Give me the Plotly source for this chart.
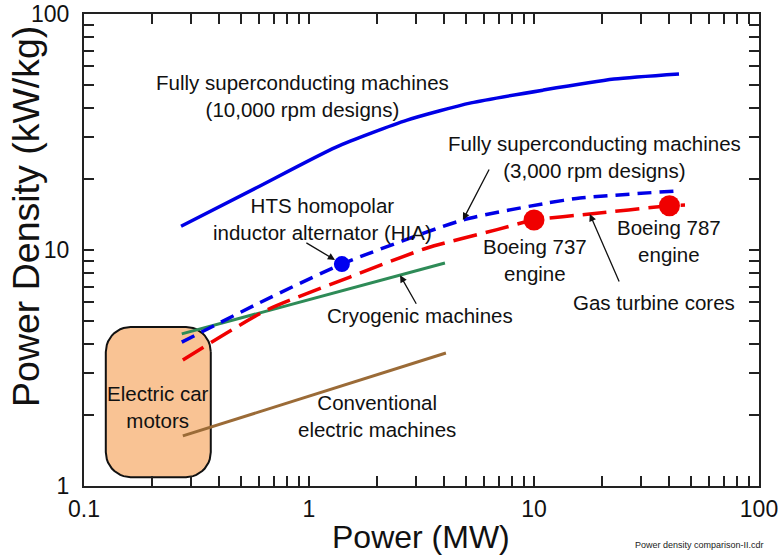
import numpy as np
import plotly.graph_objects as go

# ---- data (power in MW, power density in kW/kg) ----
sc10k_power = [0.27, 0.587, 1.32, 2.73, 5.25, 11.0, 22.7, 44.1]
sc10k_density = [12.6, 18.4, 27.3, 35.5, 42.0, 47.6, 53.0, 55.7]

sc3k_power = [0.272, 0.6, 1.40, 4.83, 11.4, 16.0, 43.2]
sc3k_density = [4.07, 5.96, 8.72, 13.4, 15.8, 16.6, 17.8]

gas_power = [0.275, 0.65, 1.52, 3.35, 6.85, 10.0, 17.7, 40.0, 46.9]
gas_density = [3.42, 5.57, 7.68, 10.2, 12.2, 13.4, 14.2, 15.4, 15.5]

cryo_power = [0.272, 4.02]
cryo_density = [4.41, 8.81]

conv_power = [0.275, 4.06]
conv_density = [1.63, 3.66]

hia_power = [1.40]
hia_density = [8.72]

boeing_power = [10.0, 40.0]
boeing_density = [13.4, 15.4]

car_power_range = [0.125, 0.366]
car_density_range = [1.09, 4.72]

x_tickvals = [0.1, 1, 10, 100]
x_ticktext = ["0.1", "1", "10", "100"]
y_tickvals = [1, 10, 100]
y_ticktext = ["1", "10", "100"]

FONT = "Liberation Sans, Arial, sans-serif"


def rounded_box(xr, yr, rx=0.11, ry=0.106, n=12):
    """Rounded rectangle outline built in log space, returned in data units."""
    x0, x1 = np.log10(xr)
    y0, y1 = np.log10(yr)
    corners = [
        (x1 - rx, y1 - ry, 0.0, 90.0),
        (x0 + rx, y1 - ry, 90.0, 180.0),
        (x0 + rx, y0 + ry, 180.0, 270.0),
        (x1 - rx, y0 + ry, 270.0, 360.0),
    ]
    xs, ys = [], []
    for cx, cy, a0, a1 in corners:
        t = np.radians(np.linspace(a0, a1, n))
        xs.extend(cx + rx * np.cos(t))
        ys.extend(cy + ry * np.sin(t))
    xs.append(xs[0])
    ys.append(ys[0])
    return 10 ** np.array(xs), 10 ** np.array(ys)


fig = go.Figure()

bx, by = rounded_box(car_power_range, car_density_range)
fig.add_trace(go.Scatter(x=bx, y=by, mode="lines", fill="toself",
                         fillcolor="#F9C394", line=dict(color="#111111", width=2),
                         hoverinfo="skip"))

fig.add_trace(go.Scatter(x=conv_power, y=conv_density, mode="lines",
                         line=dict(color="#9B6B37", width=3)))
fig.add_trace(go.Scatter(x=cryo_power, y=cryo_density, mode="lines",
                         line=dict(color="#2E8B57", width=3)))
fig.add_trace(go.Scatter(x=gas_power, y=gas_density, mode="lines",
                         line=dict(color="#F00000", width=3.5, dash="24px,9px",
                                   shape="spline", smoothing=0.6)))
fig.add_trace(go.Scatter(x=sc3k_power, y=sc3k_density, mode="lines",
                         line=dict(color="#0000E6", width=3.5, dash="14px,8px",
                                   shape="spline", smoothing=0.6)))
fig.add_trace(go.Scatter(x=sc10k_power, y=sc10k_density, mode="lines",
                         line=dict(color="#0000E6", width=3.5,
                                   shape="spline", smoothing=0.6)))
fig.add_trace(go.Scatter(x=hia_power, y=hia_density, mode="markers",
                         marker=dict(color="#0000F0", size=16)))
fig.add_trace(go.Scatter(x=boeing_power, y=boeing_density, mode="markers",
                         marker=dict(color="#F00000", size=21)))

lg = np.log10
annotations = []


def label(text, x, y, size=20.5):
    annotations.append(dict(x=lg(x), y=lg(y), xref="x", yref="y", text=text,
                            xanchor="center", yanchor="middle",
                            showarrow=False, font=dict(family=FONT, size=size, color="#111111"),
                            align="center"))


label("Fully superconducting machines<br>(10,000 rpm designs)", 0.94, 45.0)
label("Fully superconducting machines<br>(3,000 rpm designs)", 18.5, 24.8)
label("HTS homopolar<br>inductor alternator (HIA)", 1.15, 13.5)
label("Boeing 737<br>engine", 10.1, 9.07)
label("Boeing 787<br>engine", 39.8, 10.9)
label("Gas turbine cores", 34.2, 6.02)
label("Cryogenic machines", 3.11, 5.3)
label("Conventional<br>electric machines", 2.0, 1.98)
label("Electric car<br>motors", 0.213, 2.16)


def arrow(x, y, ax, ay, standoff=0):
    annotations.append(dict(x=lg(x), y=lg(y), xref="x", yref="y", text="",
                            showarrow=True, ax=ax, ay=ay, axref="pixel", ayref="pixel",
                            arrowhead=2, arrowsize=1.1, arrowwidth=1.3,
                            arrowcolor="#111111", standoff=standoff))


arrow(sc3k_power[3], sc3k_density[3], 27, -52)
arrow(hia_power[0], hia_density[0], -37, -22, standoff=8)
arrow(2.54, 7.82, 17, 30)
arrow(gas_power[6], gas_density[6], 30, 69)

# axis titles
annotations.append(dict(x=0.499, y=-0.108, xref="paper", yref="paper",
                        xanchor="center", yanchor="middle",
                        text="Power (MW)", showarrow=False,
                        font=dict(family=FONT, size=32, color="#111111")))
annotations.append(dict(x=-0.086, y=0.572, xref="paper", yref="paper", textangle=-90,
                        xanchor="center", yanchor="middle",
                        text="Power Density (kW/kg)", showarrow=False,
                        font=dict(family=FONT, size=37.5, color="#111111")))
annotations.append(dict(x=0.813, y=-0.125, xref="paper", yref="paper",
                        xanchor="left", yanchor="middle",
                        text="Power density comparison-II.cdr", showarrow=False,
                        font=dict(family=FONT, size=9, color="#222222")))

fig.update_layout(annotations=annotations)

minor_vals = [m * 10.0 ** e for e in range(-1, 2) for m in range(2, 10)]

axis_common = dict(type="log", showgrid=False, zeroline=False, showline=True,
                   linecolor="#222222", linewidth=2, mirror="ticks", automargin=False,
                   ticks="inside", ticklen=10, tickwidth=1.5, tickcolor="#222222",
                   tickfont=dict(family=FONT, size=23, color="#111111"),
                   minor=dict(ticks="inside", ticklen=10, tickwidth=1.5,
                              tickcolor="#222222", tickvals=minor_vals, showgrid=False))

fig.update_xaxes(range=[-1, 2], tickmode="array", tickvals=x_tickvals, ticktext=x_ticktext,
                 ticklabelstandoff=1, **axis_common)
fig.update_yaxes(range=[0, 2], tickmode="array", tickvals=y_tickvals, ticktext=y_ticktext,
                 ticklabelstandoff=8, **axis_common)

fig.update_layout(width=781, height=556, showlegend=False,
                  margin=dict(l=84, r=22, t=14, b=70),
                  paper_bgcolor="white", plot_bgcolor="white",
                  font=dict(family=FONT))

fig.write_html("out.html")
